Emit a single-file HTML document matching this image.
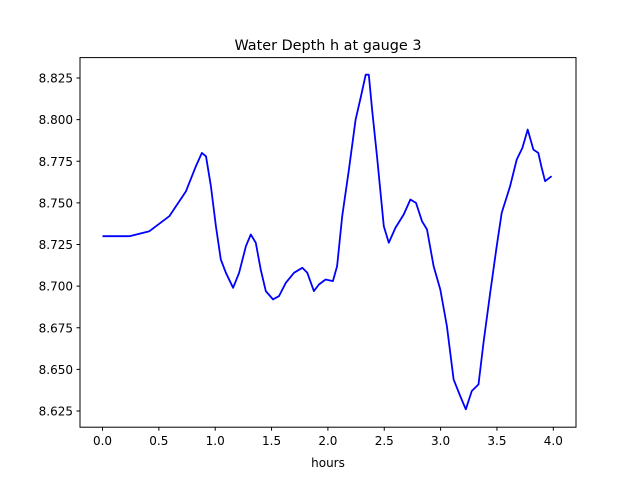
<!DOCTYPE html>
<html><head><meta charset="utf-8"><style>
body{margin:0;background:#fff;font-family:"Liberation Sans","DejaVu Sans",sans-serif;}
svg text{font-family:"DejaVu Sans","Liberation Sans",sans-serif;}
</style></head><body>
<svg id="chart" width="640" height="480" xmlns="http://www.w3.org/2000/svg">
<rect width="640" height="480" fill="#fff"/>
<text x="328" y="50" font-size="14.4" text-anchor="middle">Water Depth h at gauge 3</text>
<g id="ticks"></g>
<polyline id="line" fill="none" stroke="#0000ff" stroke-width="1.8" stroke-linejoin="round"/>
<rect x="80" y="57.6" width="496" height="369.6" fill="none" stroke="#000" stroke-width="1"/>
<text x="328" y="467" font-size="12" text-anchor="middle">hours</text>
</svg>
<script>
const hours=[0,0.239,0.416,0.593,0.741,0.829,0.882,0.918,0.962,1.006,1.050,1.095,1.159,1.212,1.272,1.316,1.360,1.404,1.449,1.513,1.566,1.626,1.699,1.773,1.817,1.876,1.920,1.980,2.044,2.082,2.127,2.186,2.246,2.290,2.335,2.363,2.392,2.436,2.496,2.540,2.599,2.673,2.732,2.782,2.835,2.879,2.938,2.997,3.056,3.115,3.174,3.224,3.277,3.336,3.381,3.440,3.498,3.542,3.617,3.675,3.726,3.773,3.823,3.867,3.897,3.927,3.985];
const depth=[8.730,8.730,8.733,8.742,8.757,8.772,8.780,8.778,8.760,8.736,8.716,8.708,8.699,8.708,8.724,8.731,8.726,8.710,8.697,8.692,8.694,8.702,8.708,8.711,8.708,8.697,8.701,8.704,8.703,8.712,8.742,8.770,8.800,8.813,8.827,8.827,8.806,8.778,8.736,8.726,8.735,8.743,8.752,8.750,8.739,8.734,8.712,8.698,8.676,8.644,8.634,8.626,8.637,8.641,8.666,8.696,8.724,8.744,8.760,8.776,8.783,8.794,8.782,8.780,8.771,8.763,8.766];
const xTicks=["0.0","0.5","1.0","1.5","2.0","2.5","3.0","3.5","4.0"];
const yTicks=["8.625","8.650","8.675","8.700","8.725","8.750","8.775","8.800","8.825"];
const xs=v=>102.5+(v-0)*112.7;
const ys=v=>411-(v-8.625)*1665;
const NS="http://www.w3.org/2000/svg";
const g=document.getElementById('ticks');
xTicks.forEach(t=>{
  const x=xs(parseFloat(t));
  const l=document.createElementNS(NS,'line');
  
  
  l.setAttribute('x1',x);l.setAttribute('x2',x);l.setAttribute('y1',427.2);l.setAttribute('y2',430.7);l.setAttribute('stroke','#000');
  g.appendChild(l);
  const tx=document.createElementNS(NS,'text');
  
  
  tx.setAttribute('x',x);tx.setAttribute('y',445);tx.setAttribute('font-size','12');tx.setAttribute('text-anchor','middle');
  tx.textContent=t;g.appendChild(tx);
});
yTicks.forEach(t=>{
  const y=ys(parseFloat(t));
  const l=document.createElementNS(NS,'line');
  
  
  l.setAttribute('x1',76.5);l.setAttribute('x2',80);l.setAttribute('y1',y);l.setAttribute('y2',y);l.setAttribute('stroke','#000');
  g.appendChild(l);
  const tx=document.createElementNS(NS,'text');
  
  
  tx.setAttribute('x',73);tx.setAttribute('y',y+4.5);tx.setAttribute('font-size','12');tx.setAttribute('text-anchor','end');
  tx.textContent=t;g.appendChild(tx);
});
document.getElementById('line').setAttribute('points',hours.map((h,i)=>xs(h).toFixed(1)+','+ys(depth[i]).toFixed(1)).join(' '));
</script>
</body></html>
